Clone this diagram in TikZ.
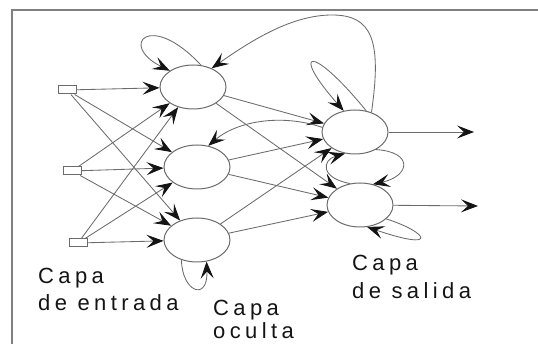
\documentclass[tikz,border=0pt]{standalone}
\usepackage{fontspec}
\setmainfont{Liberation Sans}[LetterSpace=20]
\usetikzlibrary{arrows.meta,shapes.geometric}
\definecolor{ln}{gray}{0.42}
\definecolor{tip}{gray}{0.08}
\begin{document}
\begin{tikzpicture}[x=1pt,y=-1pt,
  neuron/.style={ellipse,draw=ln,line width=1pt,minimum width=66pt,minimum height=44pt,inner sep=0pt},
  inbox/.style={rectangle,draw=ln,line width=1pt,minimum width=18pt,minimum height=8pt,inner sep=0pt},
  conn/.style={draw=ln,line width=0.85pt,-{Stealth[length=17pt,width=13pt,inset=7pt,color=tip]}},
  lbl/.style={anchor=north west,inner sep=0pt,align=left,text=tip,font={\fontsize{22}{27}\selectfont}}]
\useasboundingbox (0,0) rectangle (538,344);
\draw[line width=1.6pt,gray] (12,344) -- (12,10) -- (538,10);

\node[inbox] (i1) at (67,90) {};
\node[inbox] (i2) at (72,171) {};
\node[inbox] (i3) at (78,243) {};
\node[neuron] (h1) at (193,87) {};
\node[neuron] (h2) at (197,167) {};
\node[neuron] (h3) at (197,240) {};
\node[neuron] (o1) at (355,132) {};
\node[neuron] (o2) at (360,205) {};
\coordinate (e1) at (474,132);
\coordinate (e2) at (478,206);

% input to hidden
\foreach \i in {i1,i2,i3}{
  \foreach \h in {h1,h2,h3}{
    \draw[conn] (\i) -- (\h);
  }
}
% hidden to output
\foreach \h in {h1,h2,h3}{
  \foreach \o in {o1,o2}{
    \draw[conn] (\h) -- (\o);
  }
}
% outputs
\draw[conn] (o1) -- (e1);
\draw[conn] (o2) -- (e2);

% recurrent connections
\draw[conn] (h1.70) .. controls (150,10) and (118,45) .. (h1.145);
\draw[conn] (o1.50) .. controls (382,40) and (372,15) .. (332,15) .. controls (292,15) and (252,40) .. (h1.45);
\draw[conn] (o1.62) .. controls (310,42) and (290,50) .. (o1.118);
\draw[conn] (o1.172) .. controls (280,113) and (236,122) .. (h2.62);
\draw[conn] (o1.-40) .. controls (414,152) and (410,176) .. (o2.58);
\draw[conn] (o2.115) .. controls (320,178) and (322,160) .. (o1.-115);
\draw[conn] (o2.-28) .. controls (428,232) and (440,252) .. (o2.-72);
\draw[conn] (h3.-128) .. controls (182,292) and (208,302) .. (h3.-66);

% labels
\node[lbl] (t1) at (38,268) {Capa\\de entrada};
\node[lbl,font={\fontsize{22}{23}\selectfont}] (t2) at (213,300) {Capa\\oculta};
\node[lbl,font={\fontsize{22}{28}\selectfont}] (t3) at (352,255) {Capa\\de salida};
\end{tikzpicture}
\end{document}
